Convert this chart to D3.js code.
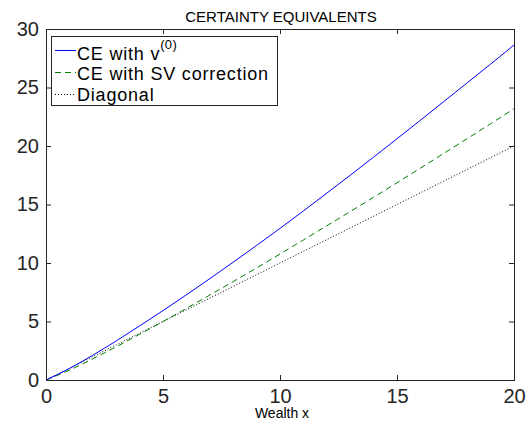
<!DOCTYPE html>
<html>
<head>
<meta charset="utf-8">
<script src="https://cdn.jsdelivr.net/npm/d3@7"></script>
<style>
  html, body { margin: 0; padding: 0; background: #fff; }
  svg { display: block; font-family: "Liberation Sans", Arial, Helvetica, sans-serif; }
</style>
</head>
<body>
<svg id="chart" width="531" height="427"></svg>
<script>
// Wealth grid and certainty-equivalent curves
const wealth = [0, 1, 2, 3, 4, 5, 6, 7, 8, 9, 10, 11, 12, 13, 14, 15, 16, 17, 18, 19, 20];
const ceV0 = [0, 0.98, 2.12, 3.34, 4.62, 5.93, 7.28, 8.66, 10.07, 11.5, 12.96, 14.45, 15.97, 17.5, 19.05, 20.62, 22.2, 23.8, 25.4, 27.0, 28.63];
const ceSV = [0, 0.84, 1.82, 2.84, 3.91, 5.0, 6.12, 7.26, 8.41, 9.58, 10.77, 11.97, 13.18, 14.39, 15.62, 16.86, 18.11, 19.37, 20.63, 21.9, 23.18];
const diagonal = [0, 1, 2, 3, 4, 5, 6, 7, 8, 9, 10, 11, 12, 13, 14, 15, 16, 17, 18, 19, 20];

const xTicks = [0, 5, 10, 15, 20];
const yTicks = [0, 5, 10, 15, 20, 25, 30];

const titleText = "CERTAINTY EQUIVALENTS";
const xLabelText = "Wealth x";

const seriesList = [
  { name: "CE with v", sup: "(0)", values: ceV0, color: "#0000ff", dash: null },
  { name: "CE with SV correction", sup: null, values: ceSV, color: "#008000", dash: "6,4" },
  { name: "Diagonal", sup: null, values: diagonal, color: "#000000", dash: "1,2" }
];

const svg = d3.select("#chart");
const plot = { left: 46, right: 514, top: 29, bottom: 380 };
const axisColor = "#262626";

const x = d3.scaleLinear().domain([0, 20]).range([plot.left, plot.right]);
const y = d3.scaleLinear().domain([0, 30]).range([plot.bottom, plot.top]);

// Curves
const line = d3.line().curve(d3.curveMonotoneX);
svg.append("clipPath").attr("id", "plotClip")
  .append("rect").attr("x", plot.left).attr("y", plot.top)
  .attr("width", plot.right - plot.left).attr("height", plot.bottom - plot.top);

const curves = svg.append("g").attr("clip-path", "url(#plotClip)");
seriesList.slice().reverse().forEach(s => {
  curves.append("path")
    .attr("d", line(wealth.map((w, i) => [x(w), y(s.values[i])])))
    .attr("fill", "none")
    .attr("stroke", s.color)
    .attr("stroke-width", 1)
    .attr("stroke-dasharray", s.dash);
});

// Axes with inward ticks, mirrored on the opposite sides
const tickLen = 5;
const fontTick = 20;
svg.append("g").attr("transform", `translate(0,${plot.bottom})`)
  .call(d3.axisBottom(x).tickValues(xTicks).tickSizeInner(-tickLen).tickSizeOuter(0).tickPadding(9))
  .call(g => {
    g.select(".domain").remove();
    g.selectAll("line").attr("stroke", axisColor);
    g.selectAll("text").attr("font-size", fontTick).attr("fill", axisColor)
      .attr("font-family", "Liberation Sans, Arial, sans-serif");
  });
svg.append("g").attr("transform", `translate(0,${plot.top})`)
  .call(d3.axisTop(x).tickValues(xTicks).tickSizeInner(-tickLen).tickSizeOuter(0).tickFormat(""))
  .call(g => { g.select(".domain").remove(); g.selectAll("line").attr("stroke", axisColor); });
svg.append("g").attr("transform", `translate(${plot.left},0)`)
  .call(d3.axisLeft(y).tickValues(yTicks).tickSizeInner(-tickLen).tickSizeOuter(0).tickPadding(7))
  .call(g => {
    g.select(".domain").remove();
    g.selectAll("line").attr("stroke", axisColor);
    g.selectAll("text").attr("font-size", fontTick).attr("fill", axisColor)
      .attr("font-family", "Liberation Sans, Arial, sans-serif");
  });
svg.append("g").attr("transform", `translate(${plot.right},0)`)
  .call(d3.axisRight(y).tickValues(yTicks).tickSizeInner(-tickLen).tickSizeOuter(0).tickFormat(""))
  .call(g => { g.select(".domain").remove(); g.selectAll("line").attr("stroke", axisColor); });

// Box
svg.append("rect")
  .attr("x", plot.left + 0.5).attr("y", plot.top + 0.5)
  .attr("width", plot.right - plot.left).attr("height", plot.bottom - plot.top)
  .attr("fill", "none").attr("stroke", axisColor).attr("stroke-width", 1);

// Title and axis label
svg.append("text").attr("x", (plot.left + plot.right) / 2 + 1).attr("y", 22)
  .attr("text-anchor", "middle").attr("font-size", 15).attr("fill", "#000").text(titleText);
svg.append("text").attr("x", (plot.left + plot.right) / 2 + 2).attr("y", 418)
  .attr("text-anchor", "middle").attr("font-size", 14).attr("fill", "#000").text(xLabelText);

// Legend
const legend = svg.append("g");
legend.append("rect").attr("x", 51.5).attr("y", 36.5).attr("width", 226).attr("height", 69)
  .attr("fill", "#fff").attr("stroke", axisColor).attr("stroke-width", 1);
const lineY = [50, 72, 94];
const textY = [59.5, 80, 100.5];
seriesList.forEach((s, i) => {
  legend.append("line").attr("x1", 55).attr("x2", 76)
    .attr("y1", lineY[i] + 0.5).attr("y2", lineY[i] + 0.5)
    .attr("stroke", s.color).attr("stroke-width", 1).attr("stroke-dasharray", s.dash);
  const t = legend.append("text").attr("x", 77).attr("y", textY[i])
    .attr("font-size", 18).attr("letter-spacing", 0.8).attr("fill", "#000");
  t.append("tspan").text(s.name);
  if (s.sup) {
    t.append("tspan").attr("dy", -10.5).attr("font-size", 13).attr("letter-spacing", 0.3).text(s.sup);
  }
});
</script>
</body>
</html>
